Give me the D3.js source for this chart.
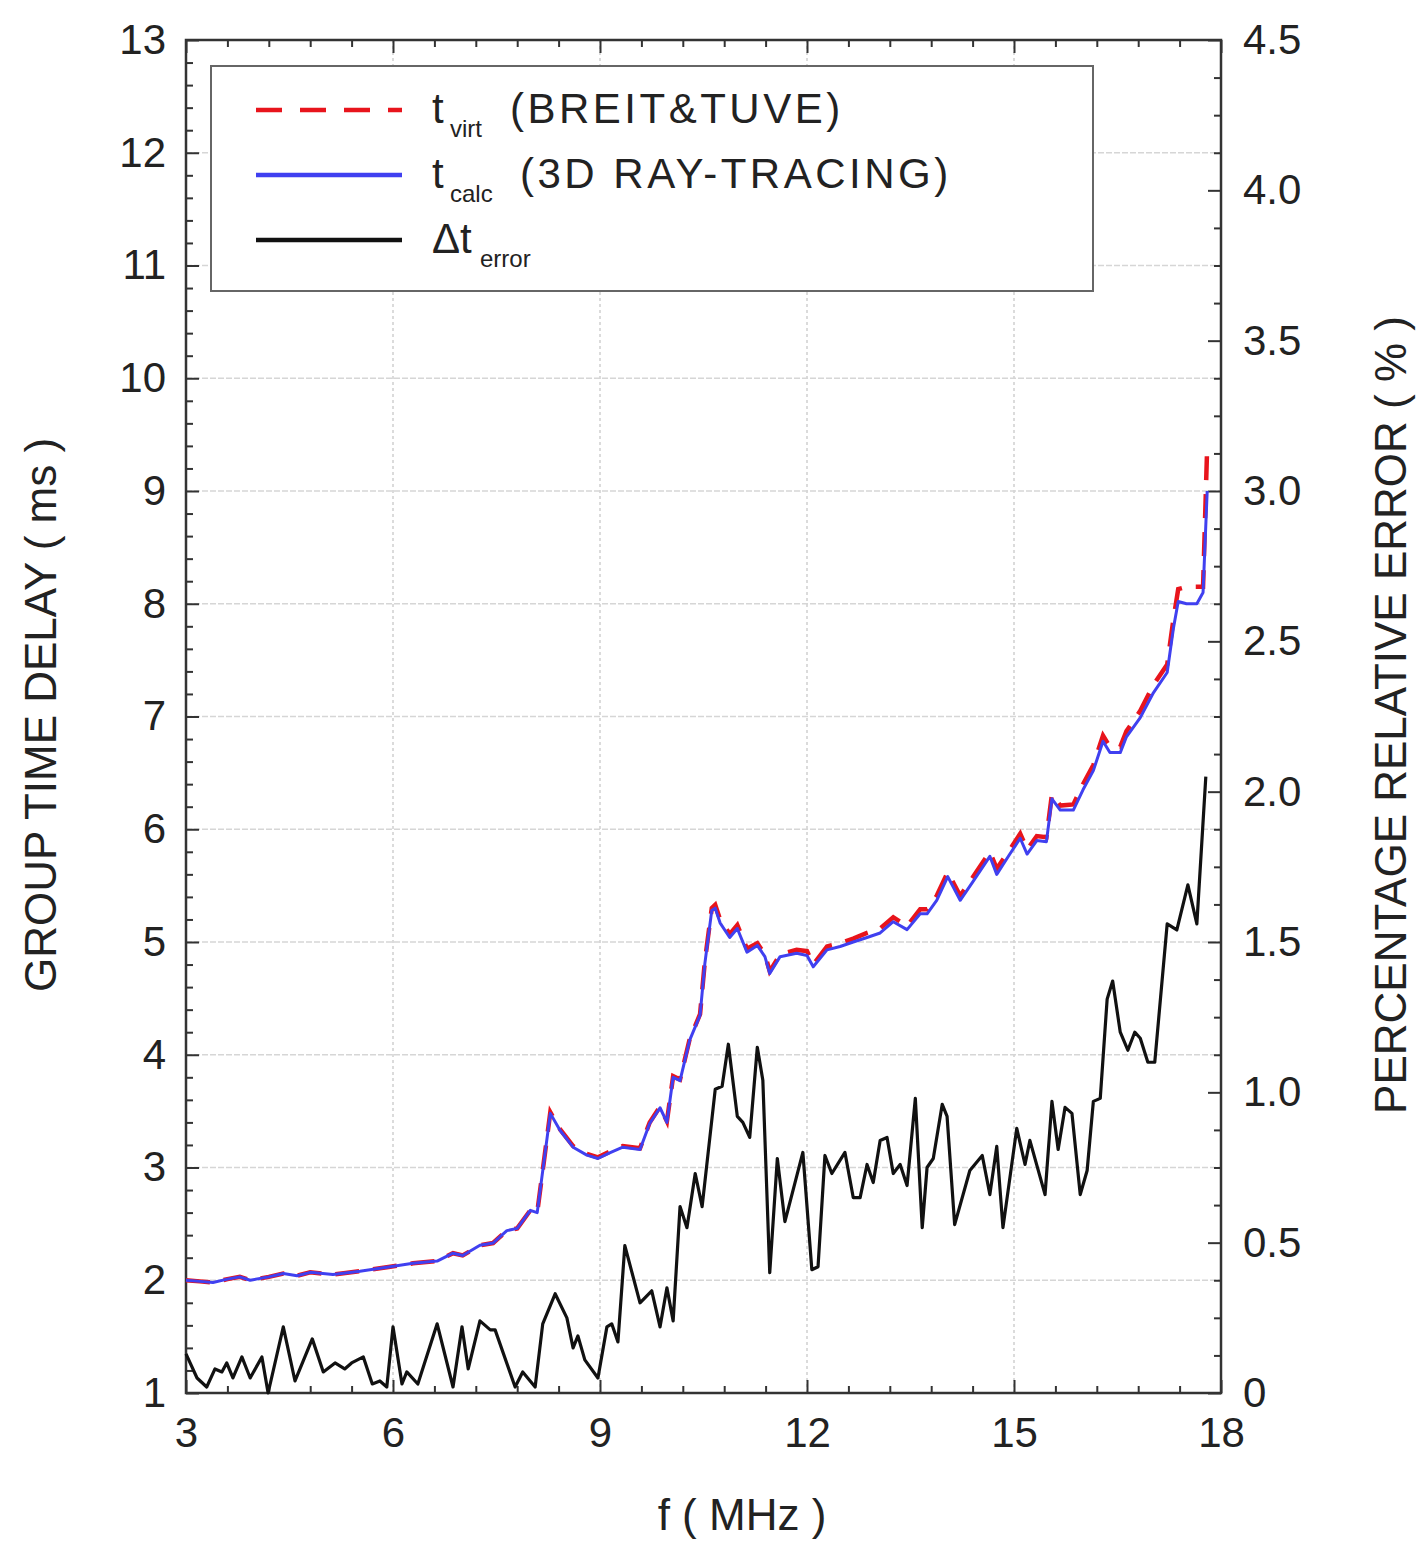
<!DOCTYPE html>
<html>
<head>
<meta charset="utf-8">
<script src="https://cdn.jsdelivr.net/npm/d3@7"></script>
<style>
  body { margin: 0; background: #fff; }
  svg text { font-family: "Liberation Sans", Arial, sans-serif; fill: #222; }
</style>
</head>
<body>
<svg id="chart"></svg>
<script>
const width = 1421,
      height = 1553;

// group delay curves (ms) on a common frequency grid (MHz)
const tFreq = [3.00, 3.20, 3.39, 3.60, 3.78, 3.93, 4.20, 4.41, 4.61, 4.80, 5.13, 5.52, 5.96, 6.29, 6.64,
  6.87, 7.01, 7.26, 7.45, 7.65, 7.80, 7.99, 8.09, 8.28, 8.42, 8.61, 8.81, 8.97, 9.14, 9.33, 9.58, 9.72,
  9.87, 9.97, 10.06, 10.16, 10.30, 10.45, 10.52, 10.62, 10.67, 10.74, 10.88, 10.99, 11.13, 11.28, 11.39,
  11.46, 11.61, 11.85, 12.00, 12.09, 12.29, 12.48, 12.67, 12.87, 13.06, 13.25, 13.45, 13.64, 13.74, 13.88,
  14.04, 14.22, 14.41, 14.65, 14.75, 14.94, 15.09, 15.19, 15.33, 15.47, 15.55, 15.67, 15.86, 16.00, 16.15,
  16.29, 16.39, 16.54, 16.63, 16.83, 17.02, 17.22, 17.31, 17.38, 17.50, 17.65, 17.74, 17.80];

const tCalc = [2.00, 1.99, 1.98, 2.01, 2.03, 2.00, 2.03, 2.06, 2.04, 2.07, 2.05, 2.08, 2.12, 2.15, 2.17,
  2.24, 2.22, 2.31, 2.33, 2.44, 2.46, 2.62, 2.60, 3.48, 3.33, 3.18, 3.11, 3.08, 3.13, 3.18, 3.16, 3.39,
  3.53, 3.40, 3.80, 3.77, 4.13, 4.35, 4.81, 5.28, 5.30, 5.17, 5.04, 5.12, 4.91, 4.97, 4.87,
  4.72, 4.87, 4.90, 4.88, 4.78, 4.93, 4.96, 5.00, 5.04, 5.08, 5.18, 5.11, 5.25, 5.25, 5.37,
  5.58, 5.37, 5.54, 5.76, 5.60, 5.78, 5.92, 5.78, 5.90, 5.89, 6.27, 6.17, 6.17, 6.35, 6.52,
  6.78, 6.68, 6.68, 6.82, 6.99, 7.21, 7.39, 7.78, 8.02, 8.00, 8.00, 8.10, 9.00];

const tVirt = [2.00, 1.99, 1.98, 2.01, 2.03, 2.00, 2.03, 2.06, 2.04, 2.07, 2.05, 2.08, 2.12, 2.15, 2.17,
  2.24, 2.22, 2.31, 2.33, 2.44, 2.46, 2.62, 2.60, 3.49, 3.34, 3.19, 3.12, 3.09, 3.14, 3.19, 3.17, 3.40,
  3.54, 3.41, 3.81, 3.78, 4.14, 4.36, 4.83, 5.30, 5.33, 5.20, 5.07, 5.15, 4.94, 4.99, 4.89,
  4.74, 4.89, 4.93, 4.92, 4.80, 4.96, 4.99, 5.03, 5.08, 5.12, 5.22, 5.14, 5.29, 5.29, 5.41,
  5.62, 5.41, 5.58, 5.80, 5.65, 5.82, 5.96, 5.82, 5.94, 5.93, 6.31, 6.21, 6.22, 6.40, 6.57,
  6.83, 6.73, 6.73, 6.87, 7.05, 7.28, 7.46, 7.86, 8.13, 8.15, 8.15, 8.15, 9.40];

// percentage relative error (%)
const errFreq = [3.00, 3.16, 3.30, 3.42, 3.52, 3.59, 3.68, 3.81, 3.93, 4.10, 4.19, 4.41, 4.58, 4.83, 4.99,
  5.16, 5.30, 5.40, 5.57, 5.70, 5.81, 5.91, 6.00, 6.13, 6.20, 6.36, 6.64, 6.87, 7.00, 7.09, 7.26, 7.41,
  7.48, 7.77, 7.88, 8.06, 8.17, 8.35, 8.52, 8.61, 8.68, 8.78, 8.97, 9.10, 9.17, 9.26, 9.36, 9.58, 9.75,
  9.87, 9.97, 10.06, 10.16, 10.26, 10.38, 10.48, 10.67, 10.77, 10.86, 10.99, 11.07, 11.17, 11.28, 11.36,
  11.46, 11.57, 11.68, 11.94, 12.07, 12.16, 12.26, 12.36, 12.55, 12.67, 12.77, 12.87, 12.96, 13.06, 13.16,
  13.25, 13.35, 13.45, 13.57, 13.67, 13.74, 13.83, 13.96, 14.03, 14.14, 14.36, 14.54, 14.65, 14.75, 14.84,
  15.04, 15.16, 15.23, 15.45, 15.55, 15.64, 15.74, 15.84, 15.96, 16.06, 16.15, 16.25, 16.35, 16.43, 16.54,
  16.65, 16.75, 16.83, 16.94, 17.04, 17.22, 17.36, 17.52, 17.65, 17.78];

const errPct = [0.13, 0.05, 0.02, 0.08, 0.07, 0.10, 0.05, 0.12, 0.05, 0.12, 0.00, 0.22, 0.04, 0.18, 0.07,
  0.10, 0.08, 0.10, 0.12, 0.03, 0.04, 0.02, 0.22, 0.03, 0.07, 0.03, 0.23, 0.02, 0.22, 0.08, 0.24, 0.21,
  0.21, 0.02, 0.07, 0.02, 0.23, 0.33, 0.25, 0.15, 0.19, 0.11, 0.05, 0.22, 0.23, 0.17, 0.49, 0.30, 0.34,
  0.22, 0.35, 0.24, 0.62, 0.55, 0.73, 0.62, 1.01, 1.02, 1.16, 0.92, 0.90, 0.85, 1.15, 1.04,
  0.40, 0.78, 0.57, 0.80, 0.41, 0.42, 0.79, 0.73, 0.80, 0.65, 0.65, 0.76, 0.70, 0.84, 0.85,
  0.73, 0.76, 0.69, 0.98, 0.55, 0.75, 0.78, 0.96, 0.92, 0.56, 0.74, 0.79, 0.66, 0.82, 0.55,
  0.88, 0.76, 0.84, 0.66, 0.97, 0.81, 0.95, 0.93, 0.66, 0.74, 0.97, 0.98, 1.31, 1.37, 1.20,
  1.14, 1.20, 1.18, 1.10, 1.10, 1.56, 1.54, 1.69, 1.56, 2.05];

const xTicks = [3, 6, 9, 12, 15, 18];
const yLeftTicks = [1, 2, 3, 4, 5, 6, 7, 8, 9, 10, 11, 12, 13];
const yRightTicks = [0, 0.5, 1.0, 1.5, 2.0, 2.5, 3.0, 3.5, 4.0, 4.5];

const margin = { top: 40, right: 200, bottom: 160, left: 186 };

const svg = d3.select("#chart")
  .attr("width", width)
  .attr("height", height);

const x = d3.scaleLinear().domain([3, 18]).range([margin.left, width - margin.right]);
const yL = d3.scaleLinear().domain([1, 13]).range([height - margin.bottom, margin.top]);
const yR = d3.scaleLinear().domain([0, 4.5]).range([height - margin.bottom, margin.top]);

const x0 = x.range()[0], x1 = x.range()[1];
const yB = yL.range()[0], yT = yL.range()[1];

// grid
svg.append("g")
  .selectAll("line")
  .data(xTicks.slice(1, -1))
  .join("line")
  .attr("x1", d => x(d)).attr("x2", d => x(d))
  .attr("y1", yT).attr("y2", yB)
  .attr("stroke", "#cfcfcf")
  .attr("stroke-width", 1.5)
  .attr("stroke-dasharray", "3,3");

svg.append("g")
  .selectAll("line")
  .data(yLeftTicks.slice(1, -1))
  .join("line")
  .attr("x1", x0).attr("x2", x1)
  .attr("y1", d => yL(d)).attr("y2", d => yL(d))
  .attr("stroke", "#d6d6d6")
  .attr("stroke-width", 1.5)
  .attr("stroke-dasharray", "6,2");

// minor tick values
const xMinor = d3.range(3, 18.001, 0.6).filter(v => Math.abs(v / 3 - Math.round(v / 3)) > 1e-6);
const yLMinor = d3.range(1, 13.001, 0.2).filter(v => Math.abs(v - Math.round(v)) > 1e-6);
const yRMinor = d3.range(0, 4.5001, 0.125).filter(v => Math.abs(v * 2 - Math.round(v * 2)) > 1e-6);

function styleAxis(g) {
  g.select(".domain").remove();
  g.selectAll("line").attr("stroke", "#333").attr("stroke-width", 2);
  g.selectAll("text").attr("font-size", 42).attr("fill", "#222");
}

// bottom
svg.append("g").attr("transform", `translate(0,${yB})`)
  .call(d3.axisBottom(x).tickValues(xTicks).tickSize(-13).tickPadding(24).tickFormat(d3.format("d")))
  .call(styleAxis);
svg.append("g").attr("transform", `translate(0,${yB})`)
  .call(d3.axisBottom(x).tickValues(xMinor).tickSize(-7).tickFormat(""))
  .call(styleAxis);
// top
svg.append("g").attr("transform", `translate(0,${yT})`)
  .call(d3.axisTop(x).tickValues(xTicks).tickSize(-13).tickFormat(""))
  .call(styleAxis);
svg.append("g").attr("transform", `translate(0,${yT})`)
  .call(d3.axisTop(x).tickValues(xMinor).tickSize(-7).tickFormat(""))
  .call(styleAxis);
// left
svg.append("g").attr("transform", `translate(${x0},0)`)
  .call(d3.axisLeft(yL).tickValues(yLeftTicks).tickSize(-13).tickPadding(20).tickFormat(d3.format("d")))
  .call(styleAxis);
svg.append("g").attr("transform", `translate(${x0},0)`)
  .call(d3.axisLeft(yL).tickValues(yLMinor).tickSize(-7).tickFormat(""))
  .call(styleAxis);
// right
svg.append("g").attr("transform", `translate(${x1},0)`)
  .call(d3.axisRight(yR).tickValues(yRightTicks).tickSize(-13).tickPadding(22)
    .tickFormat(d => d === 0 ? "0" : d.toFixed(1)))
  .call(styleAxis);
svg.append("g").attr("transform", `translate(${x1},0)`)
  .call(d3.axisRight(yR).tickValues(yRMinor).tickSize(-7).tickFormat(""))
  .call(styleAxis);

// frame
svg.append("rect")
  .attr("x", x0).attr("y", yT)
  .attr("width", x1 - x0).attr("height", yB - yT)
  .attr("fill", "none")
  .attr("stroke", "#333")
  .attr("stroke-width", 2.5);

// curves
const lineL = d3.line().x(d => x(d[0])).y(d => yL(d[1]));
const lineR = d3.line().x(d => x(d[0])).y(d => yR(d[1]));

svg.append("path")
  .datum(d3.zip(errFreq, errPct))
  .attr("d", lineR)
  .attr("fill", "none")
  .attr("stroke", "#111")
  .attr("stroke-width", 3.2)
  .attr("stroke-linejoin", "round");

svg.append("path")
  .datum(d3.zip(tFreq, tVirt))
  .attr("d", lineL)
  .attr("fill", "none")
  .attr("stroke", "#e8141c")
  .attr("stroke-width", 4.5)
  .attr("stroke-dasharray", "24,14");

svg.append("path")
  .datum(d3.zip(tFreq, tCalc))
  .attr("d", lineL)
  .attr("fill", "none")
  .attr("stroke", "#4040f0")
  .attr("stroke-width", 3)
  .attr("stroke-linejoin", "round");

// axis titles
svg.append("text")
  .attr("transform", "translate(56,715) rotate(-90)")
  .attr("text-anchor", "middle")
  .attr("font-size", 44)
  .text("GROUP TIME DELAY ( ms )");

svg.append("text")
  .attr("transform", "translate(1406,715) rotate(-90)")
  .attr("text-anchor", "middle")
  .attr("font-size", 44)
  .text("PERCENTAGE RELATIVE ERROR ( % )");

svg.append("text")
  .attr("x", 742).attr("y", 1530)
  .attr("text-anchor", "middle")
  .attr("font-size", 44)
  .text("f ( MHz )");

// legend
const legend = svg.append("g");
legend.append("rect")
  .attr("x", 211).attr("y", 66)
  .attr("width", 882).attr("height", 225)
  .attr("fill", "#fff")
  .attr("stroke", "#666")
  .attr("stroke-width", 2);

const legendItems = [
  { main: "t", sub: "virt", label: "(BREIT&TUVE)", color: "#e8141c", dash: "26,18", y: 110, labelX: 510 },
  { main: "t", sub: "calc", label: "(3D RAY-TRACING)", color: "#4040f0", dash: null, y: 175, labelX: 520 },
  { main: "\u0394t", sub: "error", label: "", color: "#111", dash: null, y: 240, labelX: 0 }
];

legendItems.forEach(d => {
  legend.append("line")
    .attr("x1", 256).attr("x2", 402)
    .attr("y1", d.y).attr("y2", d.y)
    .attr("stroke", d.color)
    .attr("stroke-width", 4.5)
    .attr("stroke-dasharray", d.dash);
  legend.append("text")
    .attr("x", 432).attr("y", d.y + 13)
    .attr("font-size", 42)
    .text(d.main);
  legend.append("text")
    .attr("x", d.main.length > 1 ? 480 : 450).attr("y", d.y + 27)
    .attr("font-size", 24)
    .text(d.sub);
  if (d.label) {
    legend.append("text")
      .attr("x", d.labelX).attr("y", d.y + 13)
      .attr("font-size", 42)
      .attr("letter-spacing", 3.5)
      .text(d.label);
  }
});
</script>
</body>
</html>
